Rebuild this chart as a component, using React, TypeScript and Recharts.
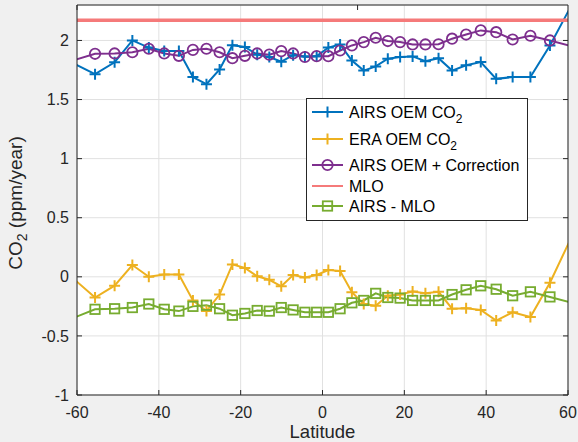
import { CartesianGrid, Legend, Line, LineChart, ReferenceLine, XAxis, YAxis } from 'recharts'

const FONT = '"Liberation Sans", Arial, Helvetica, sans-serif'
const INK = '#262626'
const BLUE = '#0072BD'
const YELLOW = '#EDB120'
const PURPLE = '#7E2F8E'
const GREEN = '#77AC30'
const MLO_RED = '#f57a7a'

// Equal-area latitude bins (bin centres, degrees).
const latitudes = [
  -61.04, -55.59, -50.81, -46.47, -42.45, -38.68, -35.1, -31.67, -28.36, -25.15, -22.02, -18.97,
  -15.96, -13.0, -10.08, -7.18, -4.3, -1.43, 1.43, 4.3, 7.18, 10.08, 13.0, 15.96, 18.97, 22.02,
  25.15, 28.36, 31.67, 35.1, 38.68, 42.45, 46.47, 50.81, 55.59, 61.04,
]

// Growth rates, ppm/year
const airsOem = [
  1.81, 1.715, 1.815, 2.0, 1.94, 1.91, 1.91, 1.69, 1.63, 1.755, 1.96, 1.945,
  1.88, 1.86, 1.82, 1.875, 1.865, 1.867, 1.94, 1.966, 1.83, 1.745, 1.78, 1.845,
  1.86, 1.865, 1.825, 1.85, 1.745, 1.79, 1.817, 1.675, 1.69, 1.69, 1.958, 2.31,
]
const eraOem = [
  -0.01, -0.175, -0.075, 0.1, 0.0, 0.02, 0.02, -0.2, -0.29, -0.15, 0.105, 0.075,
  0.005, -0.025, -0.08, 0.015, -0.005, 0.015, 0.057, 0.05, -0.13, -0.23, -0.245, -0.16,
  -0.15, -0.125, -0.14, -0.127, -0.27, -0.265, -0.28, -0.37, -0.3, -0.34, -0.05, 0.35,
]
const airsCorrected = [
  1.83, 1.887, 1.89, 1.9, 1.93, 1.89, 1.87, 1.92, 1.93, 1.9, 1.85, 1.87,
  1.89, 1.88, 1.91, 1.89, 1.86, 1.867, 1.867, 1.915, 1.958, 1.986, 2.023, 1.995,
  1.986, 1.966, 1.966, 1.968, 2.015, 2.05, 2.085, 2.07, 2.008, 2.04, 2.0, 1.95,
]
const airsMinusMlo = [
  -0.35, -0.275, -0.27, -0.26, -0.23, -0.275, -0.29, -0.25, -0.24, -0.27, -0.325, -0.31,
  -0.285, -0.29, -0.26, -0.28, -0.3, -0.3, -0.3, -0.27, -0.22, -0.2, -0.14, -0.175,
  -0.18, -0.2, -0.2, -0.2, -0.15, -0.11, -0.076, -0.105, -0.16, -0.127, -0.17, -0.22,
]
const mloRate = 2.17

const latTicks = [-60, -40, -20, 0, 20, 40, 60]
const rateTicks = [-1, -0.5, 0, 0.5, 1, 1.5, 2]

const rows = latitudes.map((lat, i) => ({
  lat,
  airsOem: airsOem[i],
  eraOem: eraOem[i],
  airsCorrected: airsCorrected[i],
  airsMinusMlo: airsMinusMlo[i],
}))

type MarkerKind = 'plus' | 'circle' | 'square' | 'none'

function Marker({ kind, x, y, color }: { kind: MarkerKind; x: number; y: number; color: string }) {
  if (kind === 'plus')
    return <path d={`M${x - 5.5},${y}H${x + 5.5}M${x},${y - 5.5}V${y + 5.5}`} stroke={color} strokeWidth={2} fill="none" />
  if (kind === 'circle') return <circle cx={x} cy={y} r={5.2} stroke={color} strokeWidth={1.8} fill="none" />
  if (kind === 'square') return <rect x={x - 4.7} y={y - 4.7} width={9.4} height={9.4} stroke={color} strokeWidth={1.8} fill="none" />
  return null
}

// markers outside the visible latitude range stay hidden, as in the original
const dotFor = (kind: MarkerKind, color: string) => (props: any) => {
  const { cx, cy, index, payload } = props
  if (payload.lat < -60 || payload.lat > 60 || cx == null) return <g key={`d-${index}`} />
  return (
    <g key={`d-${index}`}>
      <Marker kind={kind} x={cx} y={cy} color={color} />
    </g>
  )
}

const legendItems: { label: string; sub?: string; color: string; marker: MarkerKind }[] = [
  { label: 'AIRS OEM CO', sub: '2', color: BLUE, marker: 'plus' },
  { label: 'ERA OEM CO', sub: '2', color: YELLOW, marker: 'plus' },
  { label: 'AIRS OEM + Correction', color: PURPLE, marker: 'circle' },
  { label: 'MLO', color: MLO_RED, marker: 'none' },
  { label: 'AIRS - MLO', color: GREEN, marker: 'square' },
]
const legendRowY = [14, 41, 67, 88, 108]

function LegendBox() {
  return (
    <svg width={222} height={123} style={{ display: 'block', fontFamily: FONT }}>
      <rect x={0.5} y={0.5} width={221} height={122} fill="#fff" stroke={INK} />
      {legendItems.map((item, i) => {
        const y = legendRowY[i]
        return (
          <g key={item.label}>
            <line x1={6} x2={37} y1={y} y2={y} stroke={item.color} strokeWidth={2} />
            <Marker kind={item.marker} x={21.5} y={y} color={item.color} />
            <text x={43} y={y + 5.7} fontSize={16} fill="#000">
              {item.label}
              {item.sub && (
                <tspan dy={5} fontSize={12}>
                  {item.sub}
                </tspan>
              )}
            </text>
          </g>
        )
      })}
    </svg>
  )
}

function BottomTick({ x, y, payload }: any) {
  return (
    <g>
      <line x1={x} x2={x} y1={y} y2={y - 5} stroke={INK} />
      <text x={x} y={y + 12} dy="0.71em" textAnchor="middle" fontSize={16} fill={INK} fontFamily={FONT}>
        {String(payload.value)}
      </text>
    </g>
  )
}

function LeftTick({ x, y, payload }: any) {
  return (
    <g>
      <line x1={x} x2={x + 5} y1={y} y2={y} stroke={INK} />
      <text x={x - 8} y={y} dy="0.355em" textAnchor="end" fontSize={16} fill={INK} fontFamily={FONT}>
        {String(payload.value)}
      </text>
    </g>
  )
}

const NoLabel = () => <g />

function XTitle({ viewBox }: any) {
  return (
    <text x={viewBox.x + viewBox.width / 2} y={viewBox.y + 43} textAnchor="middle" fontSize={18.5} fill={INK} fontFamily={FONT}>
      Latitude
    </text>
  )
}

function YTitle({ viewBox }: any) {
  const cx = viewBox.x + 22
  const cy = viewBox.y + viewBox.height / 2 + 3
  return (
    <text x={cx} y={cy} transform={`rotate(-90, ${cx}, ${cy})`} textAnchor="middle" fontSize={19} fill={INK} fontFamily={FONT}>
      CO
      <tspan dy={5} fontSize={14}>
        2
      </tspan>
      <tspan dy={-5}> (ppm/year)</tspan>
    </text>
  )
}

export default function App() {
  return (
    <div style={{ position: 'absolute', left: 0, top: 0, width: 578, height: 442, background: '#f0f0f0', fontFamily: FONT }}>
      <LineChart width={578} height={442} data={rows} margin={{ top: 5, right: 10, bottom: 0, left: 0 }}>
        <CartesianGrid fill="#fff" stroke="#e1e1e1" strokeWidth={1} />
        <XAxis
          dataKey="lat"
          type="number"
          domain={[-60, 60]}
          allowDataOverflow
          ticks={latTicks}
          height={47}
          tickSize={0}
          tickMargin={0}
          tickLine={false}
          axisLine={{ stroke: INK }}
          tick={BottomTick}
          label={XTitle}
        />
        <XAxis
          xAxisId="top"
          orientation="top"
          type="number"
          domain={[-60, 60]}
          allowDataOverflow
          ticks={latTicks}
          height={1}
          mirror
          tickSize={5}
          tickLine={{ stroke: INK }}
          axisLine={{ stroke: INK }}
          tick={NoLabel}
        />
        <YAxis
          type="number"
          domain={[-1, 2.3]}
          allowDataOverflow
          ticks={rateTicks}
          width={77}
          tickSize={0}
          tickMargin={0}
          tickLine={false}
          axisLine={{ stroke: INK }}
          tick={LeftTick}
          label={YTitle}
        />
        <YAxis
          yAxisId="right"
          orientation="right"
          type="number"
          domain={[-1, 2.3]}
          allowDataOverflow
          ticks={rateTicks}
          width={1}
          mirror
          tickSize={5}
          tickLine={{ stroke: INK }}
          axisLine={{ stroke: INK }}
          tick={NoLabel}
        />
        <Line dataKey="airsOem" stroke={BLUE} strokeWidth={2} dot={dotFor('plus', BLUE)} activeDot={false} isAnimationActive={false} />
        <Line dataKey="eraOem" stroke={YELLOW} strokeWidth={2} dot={dotFor('plus', YELLOW)} activeDot={false} isAnimationActive={false} />
        <Line dataKey="airsCorrected" stroke={PURPLE} strokeWidth={2} dot={dotFor('circle', PURPLE)} activeDot={false} isAnimationActive={false} />
        <ReferenceLine y={mloRate} stroke={MLO_RED} strokeWidth={3.5} />
        <Line dataKey="airsMinusMlo" stroke={GREEN} strokeWidth={2} dot={dotFor('square', GREEN)} activeDot={false} isAnimationActive={false} />
        <Legend
          content={() => <LegendBox />}
          layout="horizontal"
          verticalAlign="middle"
          align="center"
          wrapperStyle={{ left: 306, top: 98, width: 222, height: 123 }}
        />
      </LineChart>
    </div>
  )
}
